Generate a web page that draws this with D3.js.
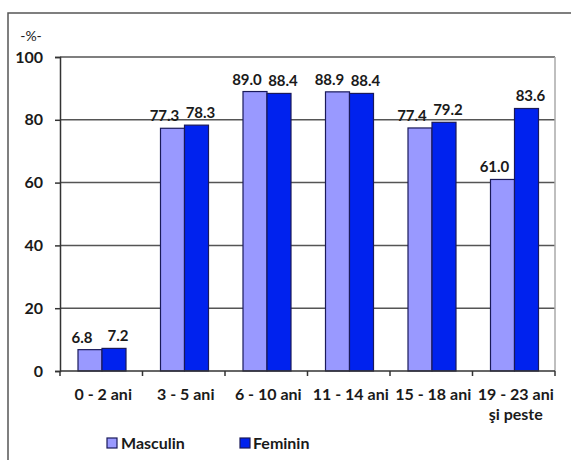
<!DOCTYPE html>
<html><head><meta charset="utf-8">
<script src="https://cdn.jsdelivr.net/npm/d3@7"></script>
<style>body{margin:0;background:#fff}svg{display:block}text{font-family:Lato,"Open Sans",sans-serif;font-weight:bold;fill:#1a1a1a}</style>
</head><body><div id="c"></div>
<script>
const categories = [["0 - 2 ani"],["3 - 5 ani"],["6 - 10 ani"],["11 - 14 ani"],["15 - 18 ani"],["19 - 23 ani","şi peste"]];
const masculin = [6.8, 77.3, 89.0, 88.9, 77.4, 61.0];
const feminin = [7.2, 78.3, 88.4, 88.4, 79.2, 83.6];
const seriesNames = ["Masculin","Feminin"];
const yTicks = [0,20,40,60,80,100];

const W=571,H=460;
const svg=d3.select("#c").append("svg").attr("width",W).attr("height",H);
svg.append("rect").attr("x",8).attr("y",13).attr("width",W+10).attr("height",H+10).attr("fill","#fff").attr("stroke","#555").attr("stroke-width",1.5);

const L=60,R=555,T=57,B=371;
const x=d3.scaleBand().domain(d3.range(categories.length)).range([L,R]).paddingInner(0).paddingOuter(0);
const y=d3.scaleLinear().domain([0,100]).range([B,T]);
const colors=["#9999FF","#0022EE"];

// gridlines
svg.append("g").selectAll("line").data(yTicks.filter(d=>d>0)).join("line")
 .attr("x1",L).attr("x2",R).attr("y1",d=>y(d)).attr("y2",d=>y(d)).attr("stroke","#555").attr("stroke-width",1.5);
svg.append("line").attr("x1",R).attr("x2",R).attr("y1",T).attr("y2",B).attr("stroke","#aaa").attr("stroke-width",1.5);

// y axis
const ya=svg.append("g").attr("transform",`translate(${L},0)`).call(d3.axisLeft(y).tickValues(yTicks).tickSize(5).tickPadding(12));
ya.select(".domain").attr("stroke","#333").attr("stroke-width",1.5);
ya.selectAll(".tick line").attr("stroke","#333").attr("stroke-width",1.5);
ya.selectAll("text").style("font-size","16px").attr("fill","#1a1a1a").style("font-family","Lato,sans-serif").style("font-weight","bold");
svg.append("text").attr("x",31).attr("y",41).attr("text-anchor","middle").style("font-size","14px").style("font-weight","normal").text("-%-");

const bw=24, off=18, labelDx=[-8,4];
const data=categories.map((c,i)=>({i,vals:[masculin[i],feminin[i]]}));
const g=svg.append("g");
data.forEach(d=>{
  d.vals.forEach((v,s)=>{
    const bx=x(d.i)+off+s*bw;
    g.append("rect").attr("x",bx).attr("y",y(v)).attr("width",bw).attr("height",y(0)-y(v))
     .attr("fill",colors[s]).attr("stroke","#1a1a5a").attr("stroke-width",1.2);
    g.append("text").attr("x",bx+bw/2+labelDx[s]).attr("y",y(v)-7).attr("text-anchor","middle").style("font-size","15px").text(v.toFixed(1));
  });
});

// x axis
svg.append("line").attr("x1",L).attr("x2",R).attr("y1",B).attr("y2",B).attr("stroke","#333").attr("stroke-width",1.5);
svg.append("g").selectAll("line").data(d3.range(categories.length+1)).join("line")
 .attr("x1",i=>L+i*x.bandwidth()).attr("x2",i=>L+i*x.bandwidth()).attr("y1",B).attr("y2",B+5).attr("stroke","#333").attr("stroke-width",1.5);
categories.forEach((c,i)=>{
  const cx=x(i)+x.bandwidth()/2+2;
  const t=svg.append("text").attr("x",cx).attr("y",B+29).attr("text-anchor","middle").style("font-size","16px");
  c.forEach((line,k)=>t.append("tspan").attr("x",cx).attr("dy",k?20:0).text(line));
});

// legend
const lg=[{x:107,tx:121},{x:240,tx:253}];
seriesNames.forEach((n,s)=>{
  svg.append("rect").attr("x",lg[s].x).attr("y",438).attr("width",10).attr("height",10).attr("fill",colors[s]).attr("stroke","#1a1a5a").attr("stroke-width",1.2);
  svg.append("text").attr("x",lg[s].tx).attr("y",449).style("font-size","16px").text(n);
});
</script></body></html>
